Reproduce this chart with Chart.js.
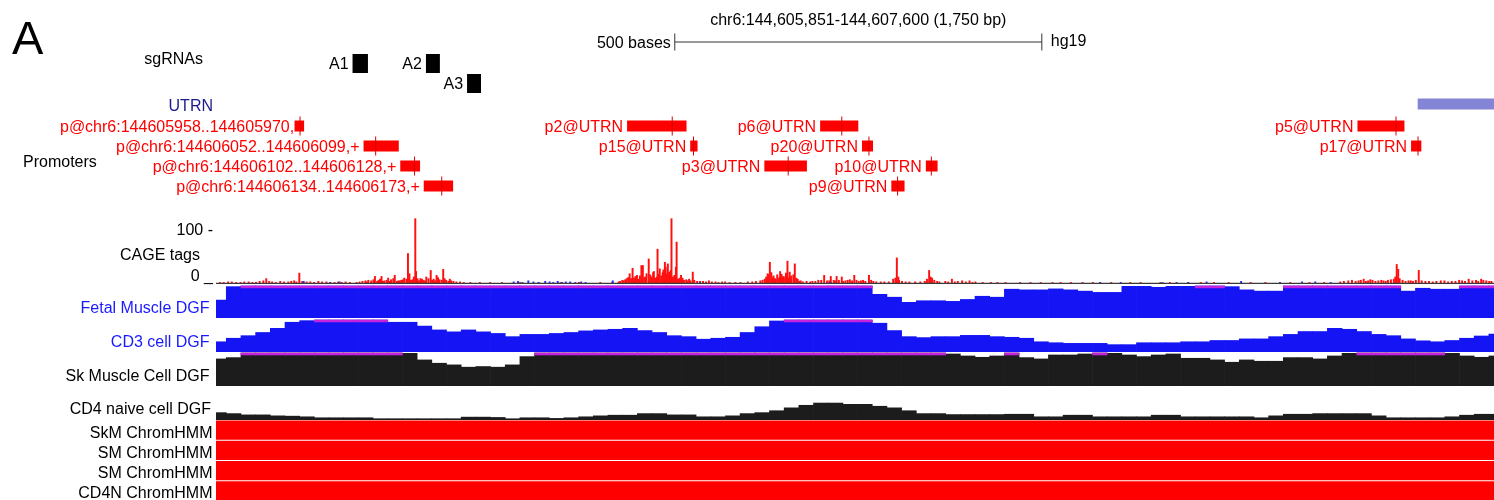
<!DOCTYPE html>
<html>
<head>
<meta charset="utf-8">
<title>UTRN promoter region, hg19</title>
<script src="https://cdn.jsdelivr.net/npm/chart.js@4.4.1/dist/chart.umd.min.js"></script>
<style>
  html, body { margin: 0; padding: 0; background: #fff; }
  #wrap { width: 1494px; height: 500px; }
</style>
</head>
<body>
<div id="wrap"><canvas id="chart" width="1494" height="500"></canvas></div>
<script>
// --- window (hg19) --- //
const chrom = "chr6";
const viewStart = 144605851;
const viewEnd = 144607600;
const visibleEnd = 144607591;   // the picture is cut a few pixels before viewEnd

// scale bar
const scaleBarStart = 144606475;
const scaleBarLength = 500;

// --- sgRNAs --- //
const sgNames = ["A1", "A2", "A3"];
const sgStart = [144606037, 144606137, 144606193];
const sgEnd = [144606057, 144606155, 144606211];
const sgRow = [0, 0, 1];

// --- gene --- //
const geneName = "UTRN";
const geneStart = 144607488;
const geneEnd = 144607600;

// --- FANTOM promoters --- //
const promoterNames = [
    "p@chr6:144605958..144605970,+", "p@chr6:144606052..144606099,+",
    "p@chr6:144606102..144606128,+", "p@chr6:144606134..144606173,+",
    "p2@UTRN", "p15@UTRN", "p3@UTRN", "p6@UTRN", "p20@UTRN",
    "p10@UTRN", "p9@UTRN", "p5@UTRN", "p17@UTRN"
];
const promoterStart = [144605958, 144606052, 144606102, 144606134, 144606411, 144606497, 144606598, 144606674, 144606731, 144606818, 144606771, 144607406, 144607479];
const promoterEnd = [144605970, 144606099, 144606128, 144606173, 144606491, 144606506, 144606655, 144606725, 144606745, 144606833, 144606788, 144607469, 144607492];
const promoterPeak = [144605965, 144606068, 144606121, 144606158, 144606472, 144606501, 144606630, 144606703, 144606740, 144606825, 144606779, 144607458, 144607488];
const promoterRow = [0, 1, 2, 3, 0, 1, 2, 0, 1, 2, 3, 0, 1];

// --- CAGE tags (plus strand) --- //
const cagePlusPos = [
    144605856, 144605867, 144605878, 144605889, 144605900, 144605910, 144605919, 144605927, 144605938, 144605949,
    144605957, 144605964, 144605979, 144605990, 144606001, 144606012, 144606027, 144606042, 144606050, 144606058,
    144606062, 144606067, 144606072, 144606076, 144606080, 144606085, 144606089, 144606094, 144606099, 144606103,
    144606107, 144606112, 144606114, 144606118, 144606122, 144606123, 144606129, 144606133, 144606137, 144606143,
    144606147, 144606151, 144606155, 144606160, 144606164, 144606169, 144606174, 144606183, 144606197, 144606224,
    144606265, 144606320, 144606374, 144606399, 144606404, 144606410, 144606414, 144606418, 144606420, 144606424,
    144606426, 144606430, 144606432, 144606435, 144606440, 144606444, 144606446, 144606449, 144606452, 144606455,
    144606457, 144606460, 144606462, 144606464, 144606466, 144606468, 144606471, 144606475, 144606478, 144606480,
    144606484, 144606486, 144606491, 144606497, 144606500, 144606506, 144606514, 144606522, 144606531, 144606544,
    144606558, 144606581, 144606592, 144606598, 144606602, 144606605, 144606608, 144606613, 144606616, 144606619,
    144606622, 144606624, 144606626, 144606629, 144606632, 144606634, 144606639, 144606643, 144606647, 144606655,
    144606663, 144606671, 144606679, 144606683, 144606688, 144606692, 144606696, 144606703, 144606708, 144606714,
    144606720, 144606726, 144606732, 144606740, 144606746, 144606756, 144606767, 144606773, 144606778, 144606781,
    144606790, 144606803, 144606816, 144606822, 144606826, 144606829, 144606833, 144606844, 144606853, 144606861,
    144606867, 144606877, 144606885, 144606906, 144606926, 144606946, 144606974, 144607001, 144607031, 144607055,
    144607096, 144607137, 144607192, 144607260, 144607314, 144607382, 144607393, 144607403, 144607410, 144607414,
    144607420, 144607426, 144607434, 144607441, 144607447, 144607455, 144607459, 144607461, 144607467, 144607475,
    144607481, 144607489, 144607498, 144607508, 144607519, 144607529, 144607539, 144607548, 144607557, 144607567,
    144607570, 144607574, 144607581, 144607588,
    // tags faibles
    144605861, 144605872, 144605884, 144605895, 144605905, 144605915, 144605923, 144605932, 144605943, 144605953,
    144605960, 144605968, 144605974, 144605984, 144605995, 144606006, 144606017, 144606022, 144606033, 144606046,
    144606054, 144606056, 144606065, 144606070, 144606074, 144606078, 144606083, 144606087, 144606092, 144606097,
    144606101, 144606105, 144606110, 144606116, 144606120, 144606125, 144606127, 144606131, 144606135, 144606140,
    144606145, 144606149, 144606153, 144606158, 144606162, 144606167, 144606171, 144606178, 144606188, 144606210,
    144606240, 144606290, 144606345, 144606390, 144606401, 144606406, 144606408, 144606412, 144606416, 144606422,
    144606428, 144606434, 144606437, 144606442, 144606447, 144606451, 144606454, 144606459, 144606463, 144606467,
    144606470, 144606473, 144606477, 144606482, 144606488, 144606493, 144606495, 144606502, 144606510, 144606518,
    144606526, 144606535, 144606540, 144606550, 144606565, 144606575, 144606586, 144606595, 144606600, 144606603,
    144606607, 144606610, 144606612, 144606615, 144606618, 144606621, 144606623, 144606627, 144606631, 144606633,
    144606637, 144606641, 144606645, 144606650, 144606660, 144606667, 144606675, 144606686, 144606694, 144606699,
    144606705, 144606711, 144606717, 144606723, 144606729, 144606735, 144606743, 144606750, 144606761, 144606776,
    144606780, 144606785, 144606795, 144606810, 144606819, 144606824, 144606836, 144606848, 144606857, 144606872,
    144606881, 144606895, 144606915, 144606960, 144606990, 144607015, 144607045, 144607070, 144607110, 144607150,
    144607175, 144607210, 144607230, 144607280, 144607300, 144607340, 144607360, 144607387, 144607398, 144607407,
    144607417, 144607423, 144607430, 144607438, 144607444, 144607451, 144607457, 144607463, 144607471, 144607478,
    144607485, 144607493, 144607503, 144607513, 144607524, 144607534, 144607544, 144607552, 144607562, 144607577,
    144607585
];
const cagePlusTags = [
    2, 3, 2, 3, 2, 4, 9, 3, 4, 3,
    5, 19, 3, 4, 3, 2, 3, 2, 4, 6,
    5, 13, 6, 13, 5, 10, 7, 15, 5, 6,
    10, 55, 18, 7, 119, 22, 9, 6, 12, 24,
    8, 15, 7, 26, 6, 8, 4, 3, 2, 2,
    2, 2, 2, 3, 6, 9, 18, 28, 10, 15,
    8, 33, 33, 12, 45, 12, 20, 10, 63, 27,
    14, 25, 39, 18, 36, 21, 119, 15, 76, 8,
    15, 10, 7, 5, 21, 4, 4, 5, 3, 3,
    2, 3, 5, 8, 18, 39, 10, 7, 9, 22,
    12, 13, 10, 41, 21, 14, 36, 8, 5, 4,
    4, 6, 15, 5, 13, 6, 13, 12, 5, 7,
    15, 4, 6, 15, 4, 3, 3, 8, 47, 6,
    3, 3, 4, 24, 10, 6, 4, 4, 8, 4,
    5, 5, 3, 2, 2, 2, 2, 2, 2, 2,
    2, 2, 2, 2, 2, 3, 5, 4, 6, 8,
    5, 6, 5, 5, 6, 8, 35, 26, 6, 5,
    4, 24, 4, 3, 5, 3, 4, 5, 8, 6,
    4, 8, 5, 4,
    // tags faibles
    2, 3, 2, 3, 2, 5, 4, 2, 3, 4,
    3, 4, 3, 2, 3, 2, 3, 2, 2, 3,
    5, 3, 7, 4, 8, 4, 6, 4, 9, 4,
    5, 7, 8, 6, 12, 9, 5, 8, 5, 9,
    6, 5, 11, 6, 9, 4, 5, 3, 2, 2,
    2, 2, 2, 2, 4, 5, 7, 11, 9, 13,
    14, 10, 18, 16, 22, 12, 17, 20, 30, 15,
    24, 12, 30, 10, 6, 5, 8, 6, 4, 3,
    3, 2, 3, 2, 2, 3, 4, 6, 12, 16,
    20, 14, 9, 16, 11, 17, 9, 19, 10, 9,
    16, 10, 4, 3, 3, 4, 6, 5, 5, 6,
    4, 6, 5, 6, 5, 4, 6, 3, 3, 10,
    12, 4, 3, 3, 8, 12, 3, 3, 3, 3,
    2, 2, 2, 2, 2, 2, 2, 2, 2, 2,
    2, 2, 2, 2, 2, 2, 2, 4, 6, 5,
    4, 7, 4, 6, 4, 7, 12, 9, 4, 5,
    6, 5, 4, 4, 5, 4, 6, 4, 5, 6,
    4
];

// --- CAGE tags (minus strand) --- //
const cageMinusPos = [
    144605970, 144606006, 144606019, 144606256, 144606262, 144606268, 144606276, 144606283, 144606290, 144606299,
    144606305, 144606310, 144606316, 144606322, 144606327, 144606333, 144606340, 144606348, 144606354, 144606391,
    144606510, 144606688, 144607055, 144607083, 144607140, 144607159, 144607175, 144607200, 144607247, 144607300,
    144607330, 144607348, 144607369
];
const cageMinusTags = [
    4, 2, 3, 3, 4, 2, 5, 3, 2, 4,
    3, 2, 4, 2, 3, 3, 2, 3, 2, 5,
    2, 2, 2, 2, 2, 2, 2, 3, 4, 2,
    3, 3, 2
];

// --- DNase DGF, 20 bp bins --- //
const dgfBinStart = 144605844;
const dgfBinSize = 20;
const dgfMax = 100;

const fetalMuscleDgf = [
    56, 98, 118, 124, 131, 127, 122, 135, 140, 133,
    126, 121, 129, 138, 142, 136, 128, 124, 119, 122,
    127, 131, 125, 120, 117, 123, 129, 134, 130, 126,
    121, 118, 124, 128, 125, 119, 116, 121, 126, 122,
    118, 114, 117, 112, 108, 74, 65, 49, 54, 54,
    52, 58, 68, 65, 90, 88, 88, 91, 88, 84,
    80, 80, 99, 99, 96, 99, 99, 108, 106, 98,
    88, 84, 84, 104, 109, 112, 110, 107, 111, 106,
    103, 84, 93, 90, 90, 105, 110, 108
];
const cd3Dgf = [
    32, 43, 51, 61, 74, 93, 98, 108, 115, 118,
    112, 105, 93, 93, 81, 69, 63, 69, 63, 58,
    48, 55, 55, 58, 61, 66, 69, 71, 74, 67,
    61, 51, 48, 40, 43, 46, 61, 79, 97, 106,
    112, 118, 121, 114, 105, 90, 67, 48, 45, 48,
    48, 52, 52, 48, 46, 43, 32, 29, 27, 27,
    27, 23, 23, 29, 29, 29, 32, 32, 36, 36,
    41, 41, 48, 55, 64, 64, 74, 71, 64, 55,
    51, 41, 35, 32, 36, 43, 50, 56
];
const skMuscleDgf = [
    82, 86, 112, 118, 124, 121, 116, 113, 119, 122,
    117, 110, 104, 99, 79, 69, 64, 57, 59, 57,
    64, 89, 106, 114, 121, 126, 130, 128, 125, 131,
    134, 129, 124, 127, 132, 136, 131, 125, 121, 118,
    123, 127, 124, 119, 115, 112, 116, 113, 108, 104,
    97, 91, 87, 91, 103, 86, 82, 94, 94, 97,
    102, 99, 94, 89, 94, 97, 84, 84, 79, 72,
    79, 75, 75, 86, 86, 82, 91, 99, 104, 109,
    112, 108, 106, 103, 99, 91, 87, 91
];
const cd4NaiveDgf = [
    23, 20, 16, 16, 13, 12, 10, 7, 7, 7,
    7, 4, 4, 4, 4, 4, 4, 9, 9, 8,
    4, 7, 7, 5, 7, 10, 13, 15, 15, 20,
    20, 16, 16, 10, 10, 13, 20, 23, 29, 38,
    46, 53, 53, 49, 49, 43, 38, 29, 20, 20,
    17, 17, 17, 17, 18, 18, 10, 10, 15, 15,
    10, 10, 10, 10, 15, 15, 10, 10, 10, 10,
    10, 7, 13, 18, 18, 20, 20, 20, 20, 13,
    7, 7, 7, 7, 10, 15, 18, 18
];

// --- ChromHMM (whole window = active promoter state) --- //
const hmmTracks = ["SkM ChromHMM", "SM ChromHMM", "SM ChromHMM", "CD4N ChromHMM"];
const hmmStart = [viewStart, viewStart, viewStart, viewStart];
const hmmEnd = [viewEnd, viewEnd, viewEnd, viewEnd];


// couleurs
const RED = "#ff0000";
const DGF_BLUE = "#1414f4";
const DGF_BLACK = "#1c1c1c";
const CLIP = "#c422dc";
const FONT = '"Liberation Sans", Arial, Helvetica, sans-serif';

const canvas = document.getElementById("chart");
const PLOT_LEFT = 216;
// pixels par base sur l'axe x (zone de tracé = canvas moins la marge gauche)
const pxPerBp = (canvas.width - PLOT_LEFT) / (visibleEnd - viewStart + 1);
const binPx = dgfBinSize * pxPerBp;

function dgfBars(values, yAxisID, color) {
    return {
        type: "bar", yAxisID, grouped: false, order: 6,
        backgroundColor: color, barThickness: binPx,
        data: values.map((v, i) => ({ x: dgfBinStart + dgfBinSize * (i + 0.5), y: Math.min(v, dgfMax) }))
    };
}
// trait magenta quand la valeur dépasse le max de la piste
function dgfClip(values, yAxisID) {
    return {
        type: "bar", yAxisID, grouped: false, order: 2,
        backgroundColor: CLIP, barThickness: binPx,
        data: values
            .map((v, i) => v > dgfMax ? { x: dgfBinStart + dgfBinSize * (i + 0.5), y: [dgfMax * 0.94, dgfMax] } : null)
            .filter(d => d)
    };
}

// une bande = un axe y caché, empilé
function band(weight, px, min, max, reverse) {
    return {
        type: "linear", position: "left", stack: "tracks", stackWeight: px, weight,
        min, max, reverse: !!reverse, display: false,
        grid: { display: false }, ticks: { display: false },
        afterBuildTicks: s => { s.ticks = []; }
    };
}

const datasets = [
    // scale bar
    {
        type: "line", yAxisID: "yBar", order: 1,
        borderColor: "#333", borderWidth: 1, pointRadius: 0,
        data: [{ x: scaleBarStart, y: 0 }, { x: scaleBarStart + scaleBarLength, y: 0 }]
    },
    {
        type: "line", yAxisID: "yBar", order: 1, showLine: false,
        pointStyle: "line", pointRotation: 90, pointRadius: 8.5,
        pointBorderColor: "#333", pointBorderWidth: 1,
        data: [{ x: scaleBarStart, y: 0 }, { x: scaleBarStart + scaleBarLength, y: 0 }]
    },
    // sgRNAs
    {
        type: "bar", indexAxis: "y", yAxisID: "ySg", grouped: false, order: 3,
        backgroundColor: "#000", barPercentage: 0.95, categoryPercentage: 1,
        data: sgNames.map((n, i) => ({ x: [sgStart[i] - 1, sgEnd[i]], y: sgRow[i] }))
    },
    // UTRN
    {
        type: "bar", indexAxis: "y", yAxisID: "yGene", grouped: false, order: 3,
        backgroundColor: "#8585d6", barPercentage: 0.55, categoryPercentage: 1,
        data: [{ x: [geneStart - 1, geneEnd], y: 0 }]
    },
    // promoters
    {
        type: "line", yAxisID: "yProm", order: 1, showLine: false,
        pointStyle: "line", pointRotation: 90, pointRadius: 9.5,
        pointBorderColor: "#d40000", pointBorderWidth: 1,
        data: promoterPeak.map((p, i) => ({ x: p - 0.5, y: promoterRow[i] }))
    },
    {
        type: "bar", indexAxis: "y", yAxisID: "yProm", grouped: false, order: 3,
        backgroundColor: RED, barPercentage: 0.55, categoryPercentage: 1,
        data: promoterNames.map((n, i) => ({ x: [promoterStart[i] - 1, promoterEnd[i]], y: promoterRow[i] }))
    },
    // CAGE
    {
        type: "line", yAxisID: "yCage", order: 1,
        borderColor: "#3a3a3a", borderWidth: 1.4, pointRadius: 0,
        data: [{ x: viewStart - 1, y: 0 }, { x: viewEnd, y: 0 }]
    },
    {
        type: "bar", yAxisID: "yCage", grouped: false, order: 4,
        backgroundColor: "#2a2aff", barThickness: 1.3,
        data: cageMinusPos.map((p, i) => ({ x: p - 0.5, y: cageMinusTags[i] }))
    },
    {
        type: "bar", yAxisID: "yCage", grouped: false, order: 5,
        backgroundColor: "#ff1010", barThickness: 1.3,
        data: cagePlusPos.map((p, i) => ({ x: p - 0.5, y: cagePlusTags[i] }))
    },
    // DGF
    dgfClip(fetalMuscleDgf, "yFetal"), dgfBars(fetalMuscleDgf, "yFetal", DGF_BLUE),
    dgfClip(cd3Dgf, "yCd3"), dgfBars(cd3Dgf, "yCd3", DGF_BLUE),
    dgfClip(skMuscleDgf, "ySkm"), dgfBars(skMuscleDgf, "ySkm", DGF_BLACK),
    dgfClip(cd4NaiveDgf, "yCd4"), dgfBars(cd4NaiveDgf, "yCd4", DGF_BLACK),
    // ChromHMM
    {
        type: "bar", indexAxis: "y", yAxisID: "yHmm", grouped: false, order: 3,
        backgroundColor: RED, barPercentage: 0.95, categoryPercentage: 1,
        data: hmmTracks.map((t, i) => ({ x: [hmmStart[i] - 1, hmmEnd[i]], y: i }))
    }
];

// --- textes --- //
const sideLabels = [
    { text: "sgRNAs", x: 203, y: 63.5 },
    { text: "UTRN", x: 213, y: 110.5, color: "#1b1b8c" },
    { text: "Promoters", x: 23, y: 166.5, align: "left" },
    { text: "CAGE tags", x: 200, y: 259.5 },
    { text: "Fetal Muscle DGF", x: 209.5, y: 312.5, color: "#1a1aff" },
    { text: "CD3 cell DGF", x: 209.5, y: 346.5, color: "#1a1aff" },
    { text: "Sk Muscle Cell DGF", x: 209.5, y: 381 },
    { text: "CD4 naive cell DGF", x: 211, y: 414 }
];
const labelNudge = { "p@chr6:144605958..144605970,+": 13 };

const textPlugin = {
    id: "trackText",
    afterDraw(chart) {
        const ctx = chart.ctx;
        const x = chart.scales.x;
        const s = chart.scales;
        ctx.save();
        ctx.textBaseline = "alphabetic";

        ctx.fillStyle = "#000";
        ctx.font = "47px " + FONT;
        ctx.textAlign = "left";
        ctx.fillText("A", 12, 54);

        ctx.font = "16px " + FONT;
        const fmt = n => n.toLocaleString("en-US");
        ctx.textAlign = "center";
        ctx.fillText(`${chrom}:${fmt(viewStart)}-${fmt(viewEnd)} (${fmt(viewEnd - viewStart + 1)} bp)`,
            x.getPixelForValue((viewStart - 1 + viewEnd) / 2), 24.5);

        const barY = s.yBar.getPixelForValue(0);
        ctx.textAlign = "right";
        ctx.fillText(scaleBarLength + " bases", x.getPixelForValue(scaleBarStart) - 4, barY + 5.5);
        ctx.textAlign = "left";
        ctx.fillText("hg19", x.getPixelForValue(scaleBarStart + scaleBarLength) + 9, barY + 4);

        sideLabels.forEach(l => {
            ctx.fillStyle = l.color || "#000";
            ctx.textAlign = l.align || "right";
            ctx.fillText(l.text, l.x, l.y);
        });

        ctx.fillStyle = "#000";
        ctx.textAlign = "right";
        ctx.fillText("100 -", 213, s.yCage.getPixelForValue(100) + 5.5);
        ctx.fillText("0 _", 213, s.yCage.getPixelForValue(0) - 2.5);

        hmmTracks.forEach((t, i) => {
            ctx.fillText(t, 212.5, s.yHmm.getPixelForValue(i) + 7.5);
        });

        sgNames.forEach((n, i) => {
            ctx.fillText(n, x.getPixelForValue(sgStart[i] - 1) - 4, s.ySg.getPixelForValue(sgRow[i]) + 5.5);
        });

        ctx.fillStyle = RED;
        promoterNames.forEach((n, i) => {
            const px = x.getPixelForValue(promoterStart[i] - 1) - 4 + (labelNudge[n] || 0);
            ctx.fillText(n, px, s.yProm.getPixelForValue(promoterRow[i]) + 5.5);
        });
        ctx.restore();
    }
};

new Chart(canvas, {
    type: "bar",
    data: { datasets },
    options: {
        responsive: false,
        animation: false,
        events: [],
        layout: { autoPadding: false, padding: { left: PLOT_LEFT, right: 0, top: 0, bottom: 0 } },
        plugins: { legend: { display: false }, tooltip: { enabled: false } },
        scales: {
            x: {
                type: "linear", position: "bottom", min: viewStart - 1, max: visibleEnd,
                offset: false, display: false, grid: { display: false }, ticks: { display: false }
            },
            yTitle: band(11, 33, 0, 1),
            yBar: band(10, 18, -1, 1),
            ySg: band(9, 43, -0.625, 1.525, true),
            yGene: band(8, 20, -0.5, 0.5),
            yProm: band(7, 82, -0.6, 3.5, true),
            yCage: band(6, 88, -0.9, 160.6),
            yFetal: band(5, 34, 0, 106.25),
            yCd3: band(4, 34, 0, 106.25),
            ySkm: band(3, 34, 0, 103),
            yCd4: band(2, 34, 0, 106.25),
            yHmm: band(1, 80, -0.5, 3.45, true)
        }
    },
    plugins: [textPlugin]
});
</script>
</body>
</html>
